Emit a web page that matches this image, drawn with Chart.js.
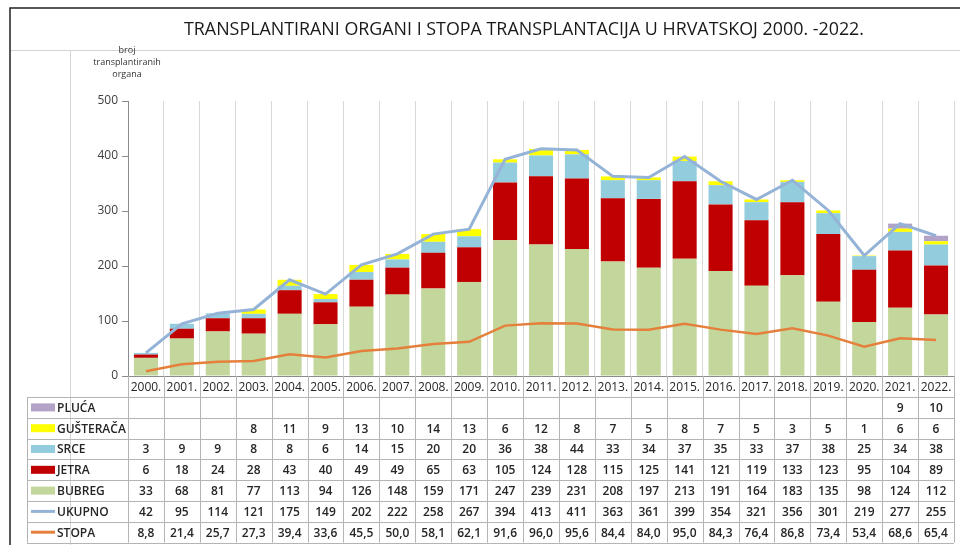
<!DOCTYPE html>
<html>
<head>
<meta charset="utf-8">
<script src="https://cdn.jsdelivr.net/npm/chart.js@4"></script>
<style>
  body { margin: 0; background: #fff; }
  canvas { display: block; }
</style>
</head>
<body>
<canvas id="myChart" width="960" height="545"></canvas>
<script>
const years = ['2000.', '2001.', '2002.', '2003.', '2004.', '2005.', '2006.', '2007.', '2008.', '2009.', '2010.',
    '2011.', '2012.', '2013.', '2014.', '2015.', '2016.', '2017.', '2018.', '2019.', '2020.', '2021.', '2022.'];
const pluca = [null, null, null, null, null, null, null, null, null, null, null, null, null, null, null, null,
    null, null, null, null, null, 9, 10];
const gusteraca = [null, null, null, 8, 11, 9, 13, 10, 14, 13, 6, 12, 8, 7, 5, 8, 7, 5, 3, 5, 1, 6, 6];
const srce = [3, 9, 9, 8, 8, 6, 14, 15, 20, 20, 36, 38, 44, 33, 34, 37, 35, 33, 37, 38, 25, 34, 38];
const jetra = [6, 18, 24, 28, 43, 40, 49, 49, 65, 63, 105, 124, 128, 115, 125, 141, 121, 119, 133, 123, 95, 104, 89];
const bubreg = [33, 68, 81, 77, 113, 94, 126, 148, 159, 171, 247, 239, 231, 208, 197, 213, 191, 164, 183, 135, 98, 124, 112];
const ukupno = [42, 95, 114, 121, 175, 149, 202, 222, 258, 267, 394, 413, 411, 363, 361, 399, 354, 321, 356, 301, 219, 277, 255];
const stopa = [8.8, 21.4, 25.7, 27.3, 39.4, 33.6, 45.5, 50.0, 58.1, 62.1, 91.6, 96.0, 95.6, 84.4, 84.0, 95.0, 84.3,
    76.4, 86.8, 73.4, 53.4, 68.6, 65.4];

const FONT = "'Open Sans', 'Liberation Sans', sans-serif";
const TXT = '#262626';
const LINE = '#b4b4b4';

// rows of the data table under the chart, top to bottom
const tableRows = [
    { label: 'PLUĆA', data: pluca, color: '#b3a2c7', type: 'box' },
    { label: 'GUŠTERAČA', data: gusteraca, color: '#ffff00', type: 'box' },
    { label: 'SRCE', data: srce, color: '#93cddd', type: 'box' },
    { label: 'JETRA', data: jetra, color: '#c00000', type: 'box' },
    { label: 'BUBREG', data: bubreg, color: '#c3d69b', type: 'box' },
    { label: 'UKUPNO', data: ukupno, color: '#95b3d7', type: 'line' },
    { label: 'STOPA', data: stopa, color: '#e5803c', type: 'line', dec: true }
];

const framePlugin = {
    id: 'frame',
    beforeDraw(chart) {
        const ctx = chart.ctx;
        ctx.save();
        ctx.fillStyle = '#fff';
        ctx.fillRect(0, 0, chart.width, chart.height);

        // sheet lines
        ctx.strokeStyle = '#d4d4d4';
        ctx.lineWidth = 1;
        ctx.beginPath();
        ctx.moveTo(10, 50.5); ctx.lineTo(960, 50.5);
        ctx.moveTo(70.5, 50); ctx.lineTo(70.5, 545);
        ctx.stroke();
        ctx.strokeStyle = '#222';
        ctx.lineWidth = 1.5;
        ctx.beginPath();
        ctx.moveTo(10, 545); ctx.lineTo(10, 8); ctx.lineTo(960, 8);
        ctx.stroke();

        // title
        ctx.fillStyle = '#1a1a1a';
        ctx.font = '18px ' + FONT;
        ctx.textAlign = 'center';
        ctx.textBaseline = 'middle';
        ctx.fillText('TRANSPLANTIRANI ORGANI I STOPA TRANSPLANTACIJA U HRVATSKOJ 2000. -2022.', 524, 30, 680);

        // y axis title
        ctx.font = '9px ' + FONT;
        ctx.fillStyle = '#333';
        ctx.fillText('broj', 127, 50);
        ctx.fillText('transplantiranih', 127, 62);
        ctx.fillText('organa', 127, 74);
        ctx.restore();
    }
};

const tablePlugin = {
    id: 'dataTable',
    afterDraw(chart) {
        const ctx = chart.ctx;
        const x = chart.scales.x;
        const area = chart.chartArea;
        const w = (area.right - area.left) / years.length;
        const top = area.bottom;
        const head = 21;
        const rowH = 20.8;
        const bottom = top + head + rowH * tableRows.length;
        ctx.save();

        // grid of the table
        ctx.strokeStyle = LINE;
        ctx.lineWidth = 1;
        ctx.beginPath();
        for (let i = 0; i <= years.length; i++) {
            const px = Math.round(area.left + i * w) + 0.5;
            ctx.moveTo(px, top);
            ctx.lineTo(px, bottom);
        }
        ctx.moveTo(27.5, top + head);
        ctx.lineTo(27.5, bottom);
        for (let r = 0; r <= tableRows.length; r++) {
            const py = Math.round(top + head + r * rowH) + 0.5;
            ctx.moveTo(27, py);
            ctx.lineTo(area.right, py);
        }
        ctx.stroke();

        // year labels
        ctx.fillStyle = TXT;
        ctx.textAlign = 'center';
        ctx.textBaseline = 'middle';
        ctx.font = '12px ' + FONT;
        years.forEach((y, i) => {
            ctx.fillText(y, x.getPixelForValue(i), top + head / 2 + 1);
        });

        // rows
        tableRows.forEach((row, r) => {
            const cy = top + head + r * rowH + rowH / 2;
            ctx.fillStyle = row.color;
            if (row.type === 'box') {
                ctx.fillRect(31, cy - 4, 24, 8);
            } else {
                ctx.fillRect(31, cy - 1.5, 24, 3);
            }
            ctx.fillStyle = TXT;
            ctx.textAlign = 'left';
            ctx.font = '600 12px ' + FONT;
            ctx.fillText(row.label, 57, cy + 1);
            ctx.textAlign = 'center';
            row.data.forEach((v, i) => {
                if (v === null) return;
                const s = row.dec ? v.toFixed(1).replace('.', ',') : String(v);
                ctx.fillText(s, x.getPixelForValue(i), cy + 1);
            });
        });
        ctx.restore();
    }
};

const barSet = (label, data, color) => ({
    type: 'bar',
    label: label,
    data: data,
    backgroundColor: color,
    borderWidth: 0,
    stack: 'organi',
    order: 1,
    categoryPercentage: 1,
    barPercentage: 0.67
});

// each line gets its own stack so it is not piled on anything
const lineSet = (label, data, color, width) => ({
    type: 'line',
    label: label,
    data: data,
    borderColor: color,
    backgroundColor: color,
    borderWidth: width,
    pointRadius: 0,
    tension: 0,
    stack: label,
    order: 0
});

new Chart(document.getElementById('myChart'), {
    data: {
        labels: years,
        datasets: [
            barSet('BUBREG', bubreg, '#c3d69b'),
            barSet('JETRA', jetra, '#c00000'),
            barSet('SRCE', srce, '#93cddd'),
            barSet('GUŠTERAČA', gusteraca, '#ffff00'),
            barSet('PLUĆA', pluca, '#b3a2c7'),
            lineSet('UKUPNO', ukupno, '#95b3d7', 3),
            lineSet('STOPA', stopa, '#e5803c', 2.5)
        ]
    },
    options: {
        responsive: false,
        animation: false,
        layout: { padding: { top: 101, bottom: 169, left: 0, right: 6 } },
        plugins: {
            legend: { display: false },
            title: { display: false },
            tooltip: { enabled: false }
        },
        scales: {
            x: {
                stacked: true,
                offset: true,
                ticks: { display: false },
                grid: { offset: true, color: '#d9d9d9', drawTicks: false },
                border: { display: true, color: '#8c8c8c' },
                afterFit(scale) { scale.height = 0; }
            },
            y: {
                stacked: true,
                min: 0,
                max: 500,
                ticks: {
                    stepSize: 100,
                    color: '#404040',
                    font: { family: FONT, size: 12 },
                    padding: 4
                },
                grid: { drawOnChartArea: false, drawTicks: true, tickLength: 6, color: '#8c8c8c' },
                border: { display: true, color: '#8c8c8c' },
                afterFit(scale) { scale.width = 128; }
            }
        }
    },
    plugins: [framePlugin, tablePlugin]
});
</script>
</body>
</html>
